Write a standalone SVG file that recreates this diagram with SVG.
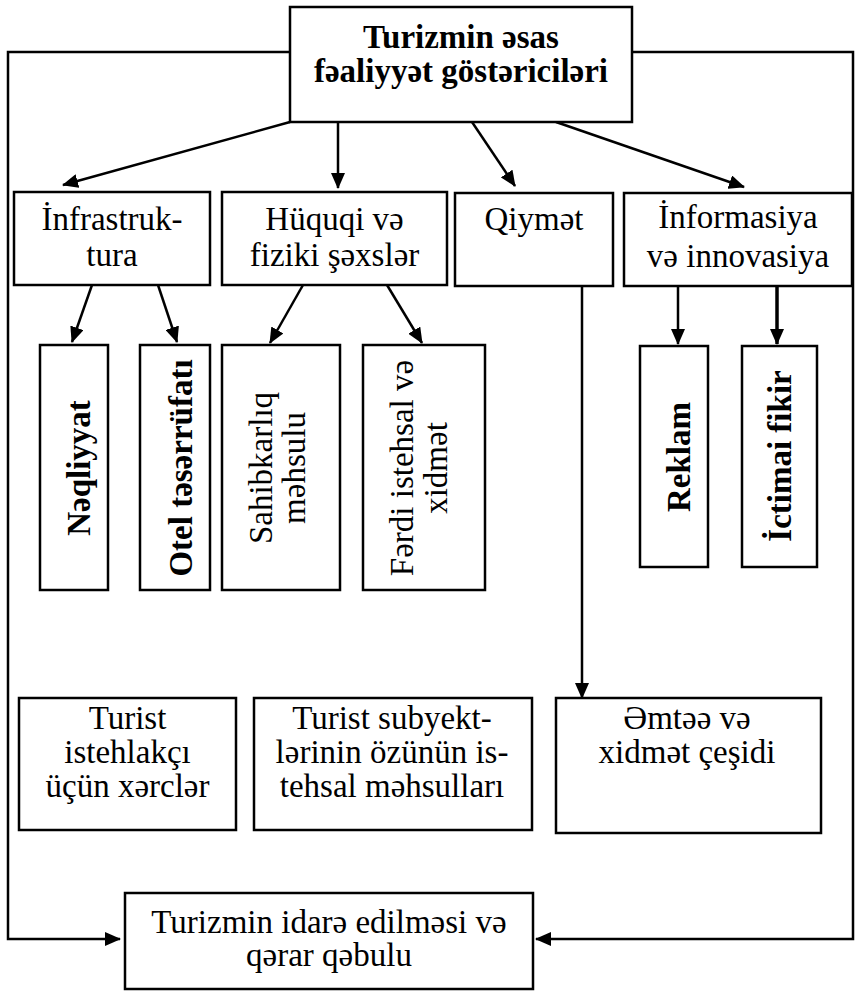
<svg xmlns="http://www.w3.org/2000/svg" width="855" height="992" viewBox="0 0 855 992">
<defs>
<style>
.box{fill:#fff;stroke:#000;stroke-width:2.5}
.t{font-family:"Liberation Serif","Times New Roman",serif;font-size:33px;fill:#000;text-anchor:middle}
.b{font-weight:bold}
.c{stroke:#000;stroke-width:2.5;fill:none}
</style>
<marker id="ah" viewBox="0 0 16 14" refX="15" refY="7" markerWidth="16" markerHeight="14" markerUnits="userSpaceOnUse" orient="auto">
<path d="M0,0 L16,7 L0,14 z" fill="#000"/>
</marker>
</defs>
<rect width="855" height="992" fill="#fff"/>
<g id="connectors">
<polyline class="c" points="290,52 8,52 8,939 120,939" marker-end="url(#ah)"/>
<polyline class="c" points="632,52 853,52 853,939 536,939" marker-end="url(#ah)"/>
<line class="c" x1="290" y1="122" x2="63" y2="185" marker-end="url(#ah)"/>
<line class="c" x1="338" y1="122" x2="338" y2="188" marker-end="url(#ah)"/>
<line class="c" x1="472" y1="122" x2="515" y2="186" marker-end="url(#ah)"/>
<line class="c" x1="556" y1="122" x2="744" y2="187" marker-end="url(#ah)"/>
<line class="c" x1="92" y1="285" x2="72" y2="342" marker-end="url(#ah)"/>
<line class="c" x1="158" y1="285" x2="177" y2="342" marker-end="url(#ah)"/>
<line class="c" x1="303" y1="285" x2="270" y2="343" marker-end="url(#ah)"/>
<line class="c" x1="387" y1="285" x2="422" y2="343" marker-end="url(#ah)"/>
<line class="c" x1="678" y1="286" x2="678" y2="344" marker-end="url(#ah)"/>
<line class="c" x1="777" y1="286" x2="777" y2="344" marker-end="url(#ah)" style="stroke-width:3.5"/>
<line class="c" x1="582" y1="286" x2="582" y2="698" marker-end="url(#ah)"/>
</g>
<g id="top">
<rect class="box" x="290" y="7" width="342" height="115"/>
<text class="t b" x="461" y="48" font-size="32">Turizmin əsas</text>
<text class="t b" x="461" y="82" font-size="32">fəaliyyət göstəriciləri</text>
</g>
<g id="infrastruktura">
<rect class="box" x="14" y="192" width="196" height="93"/>
<text class="t" x="112" y="230" font-size="32">İnfrastruk-</text>
<text class="t" x="112" y="266" font-size="32">tura</text>
</g>
<g id="huquqi">
<rect class="box" x="222" y="192" width="225" height="93"/>
<text class="t" x="334.5" y="230" font-size="32">Hüquqi və</text>
<text class="t" x="334.5" y="266" font-size="32">fiziki şəxslər</text>
</g>
<g id="qiymet">
<rect class="box" x="455" y="193" width="158" height="93"/>
<text class="t" x="534" y="230">Qiymət</text>
</g>
<g id="informasiya">
<rect class="box" x="624" y="193" width="228" height="93"/>
<text class="t" x="738" y="228">İnformasiya</text>
<text class="t" x="738" y="267">və innovasiya</text>
</g>
<g id="neqliyyat">
<rect class="box" x="40" y="345" width="68" height="245"/>
<text class="t b" font-size="31" transform="translate(74,468) rotate(-90)" y="16">Nəqliyyat</text>
</g>
<g id="otel">
<rect class="box" x="140" y="345" width="70" height="245"/>
<text class="t b" font-size="31" transform="translate(175,468) rotate(-90)" y="17">Otel təsərrüfatı</text>
</g>
<g id="sahibkarliq">
<rect class="box" x="222" y="345" width="118" height="245"/>
<text class="t" font-size="32" transform="translate(281,468) rotate(-90)" y="-9">Sahibkarlıq</text>
<text class="t" font-size="32" transform="translate(281,468) rotate(-90)" y="24">məhsulu</text>
</g>
<g id="ferdi">
<rect class="box" x="363" y="345" width="122" height="245"/>
<text class="t" font-size="32" transform="translate(424,468) rotate(-90)" y="-11">Fərdi istehsal və</text>
<text class="t" font-size="32" transform="translate(424,468) rotate(-90)" y="23">xidmət</text>
</g>
<g id="reklam">
<rect class="box" x="640" y="346" width="68" height="221"/>
<text class="t b" font-size="31" transform="translate(674,457) rotate(-90)" y="16">Reklam</text>
</g>
<g id="ictimai">
<rect class="box" x="742" y="346" width="75" height="221"/>
<text class="t b" font-size="30" transform="translate(779,456) rotate(-90)" y="12">İctimai fikir</text>
</g>
<g id="turist-istehlakci">
<rect class="box" x="19" y="698" width="217" height="132"/>
<text class="t" x="127.5" y="729">Turist</text>
<text class="t" x="127.5" y="763">istehlakçı</text>
<text class="t" x="127.5" y="797">üçün xərclər</text>
</g>
<g id="turist-subyekt">
<rect class="box" x="254" y="698" width="278" height="132"/>
<text class="t" x="392" y="729">Turist subyekt-</text>
<text class="t" x="392" y="763">lərinin özünün is-</text>
<text class="t" x="392" y="797">tehsal məhsulları</text>
</g>
<g id="emtee">
<rect class="box" x="556" y="698" width="265" height="135"/>
<text class="t" x="687" y="729">Əmtəə və</text>
<text class="t" x="687" y="763">xidmət çeşidi</text>
</g>
<g id="idare">
<rect class="box" x="125" y="893" width="408" height="96"/>
<text class="t" x="329" y="933">Turizmin idarə edilməsi və</text>
<text class="t" x="329" y="966">qərar qəbulu</text>
</g>
</svg>
